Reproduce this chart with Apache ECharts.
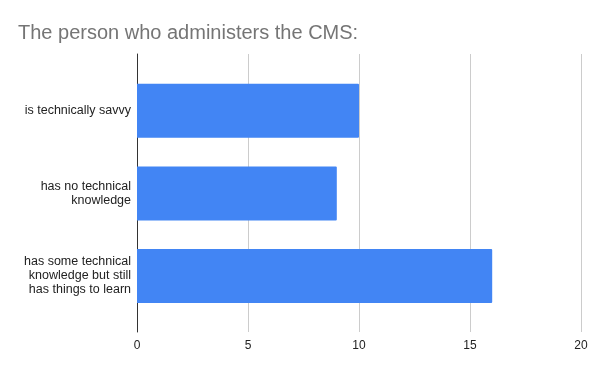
<!DOCTYPE html>
<html>
<head>
<meta charset="utf-8">
<script src="https://cdn.jsdelivr.net/npm/echarts@6/dist/echarts.min.js"></script>
<style>html,body{margin:0;padding:0;background:#fff}#c{width:600px;height:371px}</style>
</head>
<body>
<div id="c"></div>
<script>
var titleText = 'The person who administers the CMS:';
var categories = ['is technically savvy', 'has no technical\nknowledge', 'has some technical\nknowledge but still\nhas things to learn'];
var values = [10, 9, 16];
var xMin = 0, xMax = 20, xStep = 5;

var chart = echarts.init(document.getElementById('c'), null, {renderer: 'canvas'});
var font = 'Liberation Sans, Arial, sans-serif';
chart.setOption({
  animation: false,
  backgroundColor: '#fff',
  title: {
    text: titleText, left: 13, top: 18,
    textStyle: {fontFamily: font, fontSize: 20, fontWeight: 'normal', color: '#757575'}
  },
  grid: [
    {left: 137, right: 19, top: 54, bottom: 39},
    {left: 137, right: 19, top: 69.5, bottom: 53.7}
  ],
  xAxis: [
    {gridIndex: 0, type: 'value', min: xMin, max: xMax, interval: xStep,
     axisLine: {show: false}, axisTick: {show: false},
     splitLine: {show: true, lineStyle: {color: '#cccccc', width: 1}},
     axisLabel: {margin: 8, fontFamily: font, fontSize: 12, color: '#222'}},
    {gridIndex: 1, type: 'value', min: xMin, max: xMax, interval: xStep, show: false}
  ],
  yAxis: [
    {gridIndex: 0, type: 'value', min: 0, max: 1,
     axisLine: {show: true, lineStyle: {color: '#333', width: 1}},
     axisTick: {show: false}, axisLabel: {show: false}, splitLine: {show: false}},
    {gridIndex: 1, type: 'category', data: categories, inverse: true,
     axisLine: {show: false}, axisTick: {show: false}, splitLine: {show: false},
     axisLabel: {margin: 6, fontFamily: font, fontSize: 12.5, color: '#222', lineHeight: 14, align: 'right'}}
  ],
  series: [{
    type: 'bar', xAxisIndex: 1, yAxisIndex: 1, data: values, barWidth: 54,
    itemStyle: {color: '#4285F4', borderRadius: [0, 1, 1, 0]}
  }]
});
</script>
</body>
</html>
